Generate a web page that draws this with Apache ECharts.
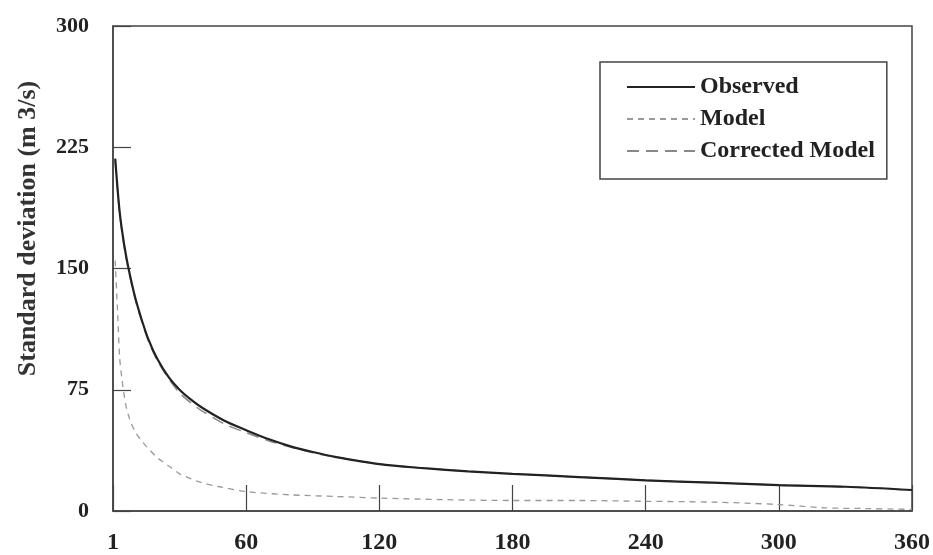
<!DOCTYPE html>
<html>
<head>
<meta charset="utf-8">
<script src="https://cdn.jsdelivr.net/npm/echarts@6/dist/echarts.min.js"></script>
<style>
html,body{margin:0;padding:0;background:#fff;}
#chart{width:933px;height:555px;}
</style>
</head>
<body>
<div id="chart"></div>
<script>
var FONT = '"Liberation Serif", "DejaVu Serif", serif';

var xTicks = [0, 60, 120, 180, 240, 300, 360];
var xTickLabels = ['1', '60', '120', '180', '240', '300', '360'];
var yTickLabels = ['0', '75', '150', '225', '300'];

var obsDays = [1, 3, 5, 7, 10, 13, 16, 20, 25, 30, 35, 40, 50, 60, 70, 80, 90, 100, 120, 140, 160, 180, 210, 240, 270, 300, 330, 360];
var observed = [218, 185, 165, 150, 132, 118, 106, 94, 83, 75, 69, 64, 56, 50, 44.5, 40, 36.5, 33.5, 29, 26.5, 24.5, 23, 21, 19, 17.5, 16, 15, 13];

var corrDays = [1, 3, 5, 7, 10, 13, 16, 20, 25, 30, 35, 40, 50, 60, 70, 80, 90, 100, 120, 140, 160, 180, 210, 240, 270, 300, 330, 360];
var corrected = [216, 184, 164, 149, 131, 117, 105, 93, 82, 73, 67, 62, 54, 48.5, 43.5, 39.5, 36, 33.5, 29, 26.5, 24.5, 23, 21, 19, 17.5, 16, 15, 13];

var modelDays = [1, 2, 3, 4, 5, 6, 7, 8, 10, 12, 15, 20, 25, 30, 35, 40, 48, 60, 80, 100, 120, 150, 180, 210, 240, 270, 300, 320, 340, 360];
var model = [155, 125, 95, 82, 72, 64, 59, 55, 49, 45, 40, 33, 28, 23, 20, 17.5, 15, 12, 10, 9, 8, 7, 6.5, 6.5, 6, 5.5, 4, 2, 1.5, 1];

function pairs(xs, ys) {
  var out = [];
  for (var i = 0; i < xs.length; i++) out.push([xs[i], ys[i]]);
  return out;
}

var chart = echarts.init(document.getElementById('chart'), null, {renderer: 'canvas'});
chart.setOption({
  backgroundColor: '#ffffff',
  animation: false,
  grid: {left: 113, right: 17, top: 26, bottom: 43, show: true, borderColor: '#444', borderWidth: 1.5, backgroundColor: 'transparent'},
  legend: {
    orient: 'vertical', left: 600, top: 62,
    itemWidth: 68, itemHeight: 14, itemGap: 8,
    padding: [13, 12, 16, 26],
    borderColor: '#444', borderWidth: 1.5,
    itemStyle: {opacity: 0},
    textStyle: {fontFamily: FONT, fontSize: 24, fontWeight: 'bold', color: '#222'},
    data: ['Observed', 'Model', 'Corrected Model']
  },
  xAxis: {
    type: 'value', min: 0, max: 360, interval: 60,
    axisLine: {show: true, lineStyle: {color: '#444', width: 1.5}},
    axisTick: {show: true, inside: true, length: 26, lineStyle: {color: '#444', width: 1.2}},
    splitLine: {show: false},
    axisLabel: {
      margin: 20, fontFamily: FONT, fontSize: 24, fontWeight: 'bold', color: '#222',
      formatter: function (v) { var i = xTicks.indexOf(v); return i >= 0 ? xTickLabels[i] : ''; }
    }
  },
  yAxis: {
    type: 'value', min: 0, max: 300, interval: 75,
    name: 'Standard deviation (m 3/s)', nameLocation: 'middle', nameGap: 72, nameRotate: 90,
    nameTextStyle: {fontFamily: FONT, fontSize: 26, fontWeight: 'bold', color: '#333', padding: [0, 0, 0, 80]},
    axisLine: {show: true, lineStyle: {color: '#444', width: 1.5}},
    axisTick: {show: true, inside: true, length: 18, lineStyle: {color: '#444', width: 1.2}},
    splitLine: {show: false},
    axisLabel: {
      margin: 24, fontFamily: FONT, fontSize: 22, fontWeight: 'bold', color: '#222',
      formatter: function (v) { return yTickLabels[Math.round(v / 75)]; }
    }
  },
  series: [
    {
      name: 'Observed', type: 'line', data: pairs(obsDays, observed),
      symbol: 'none', smooth: 0.3, z: 5,
      lineStyle: {color: '#222', width: 2.2, type: 'solid'},
      itemStyle: {color: '#222'}
    },
    {
      name: 'Model', type: 'line', data: pairs(modelDays, model),
      symbol: 'none', smooth: 0.3, z: 3,
      lineStyle: {color: '#999', width: 1.3, type: [6, 5]},
      itemStyle: {color: '#999'}
    },
    {
      name: 'Corrected Model', type: 'line', data: pairs(corrDays, corrected),
      symbol: 'none', smooth: 0.3, z: 4,
      lineStyle: {color: '#888', width: 1.5, type: [12, 7]},
      itemStyle: {color: '#888'}
    }
  ]
});
</script>
</body>
</html>
